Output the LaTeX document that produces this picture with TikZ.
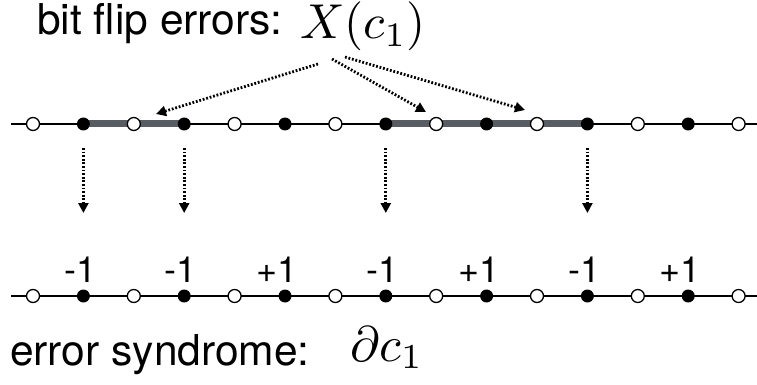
\documentclass[tikz,border=0pt]{standalone}
\usepackage{graphicx}
\usepackage{fontspec}
\newfontfamily\heros{TeX Gyre Heros}
\usetikzlibrary{arrows.meta,calc}
\definecolor{bargray}{HTML}{585D63}
\newcommand{\numtxt}[1]{\scalebox{3.6}{\heros #1}}
\tikzset{
  opendot/.style={circle,draw=black,fill=white,line width=1.3pt,minimum size=13pt,inner sep=0pt},
  fulldot/.style={circle,fill=black,minimum size=13pt,inner sep=0pt},
  chain/.style={line width=2pt,black},
  errbar/.style={line width=7pt,bargray},
  darrow/.style={line width=2.8pt,dash pattern=on 1.8pt off 1.8pt,-{Triangle[length=10pt,width=10pt]}},
  bigtext/.style={font=\heros\fontsize{42.5}{50}\selectfont,inner sep=0pt,anchor=base west},
  numlab/.style={inner sep=0pt,anchor=base east},
}
\begin{document}
\begin{tikzpicture}[x=1pt,y=-1pt]
\useasboundingbox (0,0) rectangle (757,385);
% coordinates of line ends
\coordinate (tl) at (11,124);
\coordinate (tr) at (757,124);
\coordinate (bl) at (11,296);
\coordinate (br) at (757,296);
\draw[chain] (tl) -- (tr);
\draw[chain] (bl) -- (br);
% positions
\foreach \i in {0,...,14} {
  \coordinate (pt\i) at ({33+50.4*\i},124);
  \coordinate (pb\i) at ({33+50.4*\i},296);
}
\draw[errbar] (pt1) -- (pt3);
\draw[errbar] (pt7) -- (pt11);
\foreach \i in {0,2,...,14} {
  \node[opendot] (t\i) at (pt\i) {};
  \node[opendot] (b\i) at (pb\i) {};
}
\foreach \i in {1,3,...,13} {
  \node[fulldot] (t\i) at (pt\i) {};
  \node[fulldot] (b\i) at (pb\i) {};
}
% texts
\node[bigtext] (title) at (37,35) {bit flip errors:};
\node[inner sep=0pt,anchor=base west] (xc) at (300,39) {\scalebox{4.9}{$X(c_1)$}};
\node[bigtext] (synd) at (10,365) {error syndrome:};
\node[inner sep=0pt,anchor=base west] (dc) at (350,361) {\scalebox{5}{$\partial c_1$}};
% syndrome labels
\node[numlab] (l1) at ($(b1)+(13,-14)$) {\numtxt{-1}};
\node[numlab] (l3) at ($(b3)+(13,-14)$) {\numtxt{-1}};
\node[numlab] (l5) at ($(b5)+(13,-14)$) {\numtxt{+1}};
\node[numlab] (l7) at ($(b7)+(13,-14)$) {\numtxt{-1}};
\node[numlab] (l9) at ($(b9)+(13,-14)$) {\numtxt{+1}};
\node[numlab] (l11) at ($(b11)+(13,-14)$) {\numtxt{-1}};
\node[numlab] (l13) at ($(b13)+(13,-14)$) {\numtxt{+1}};
% arrows from X(c1)
\coordinate (s1) at (318,64);
\coordinate (s2) at (332,59);
\coordinate (s3) at (345,57);
\coordinate (e1) at (156,114);
\coordinate (e2) at (426,112);
\coordinate (e3) at (525,110);
\draw[darrow] (s1) -- (e1);
\draw[darrow] (s2) -- (e2);
\draw[darrow] (s3) -- (e3);
% vertical arrows
\foreach \i in {1,3,7,11} {
  \draw[darrow] ($(t\i)+(0,24)$) -- ($(t\i)+(0,89)$);
}
\end{tikzpicture}
\end{document}
